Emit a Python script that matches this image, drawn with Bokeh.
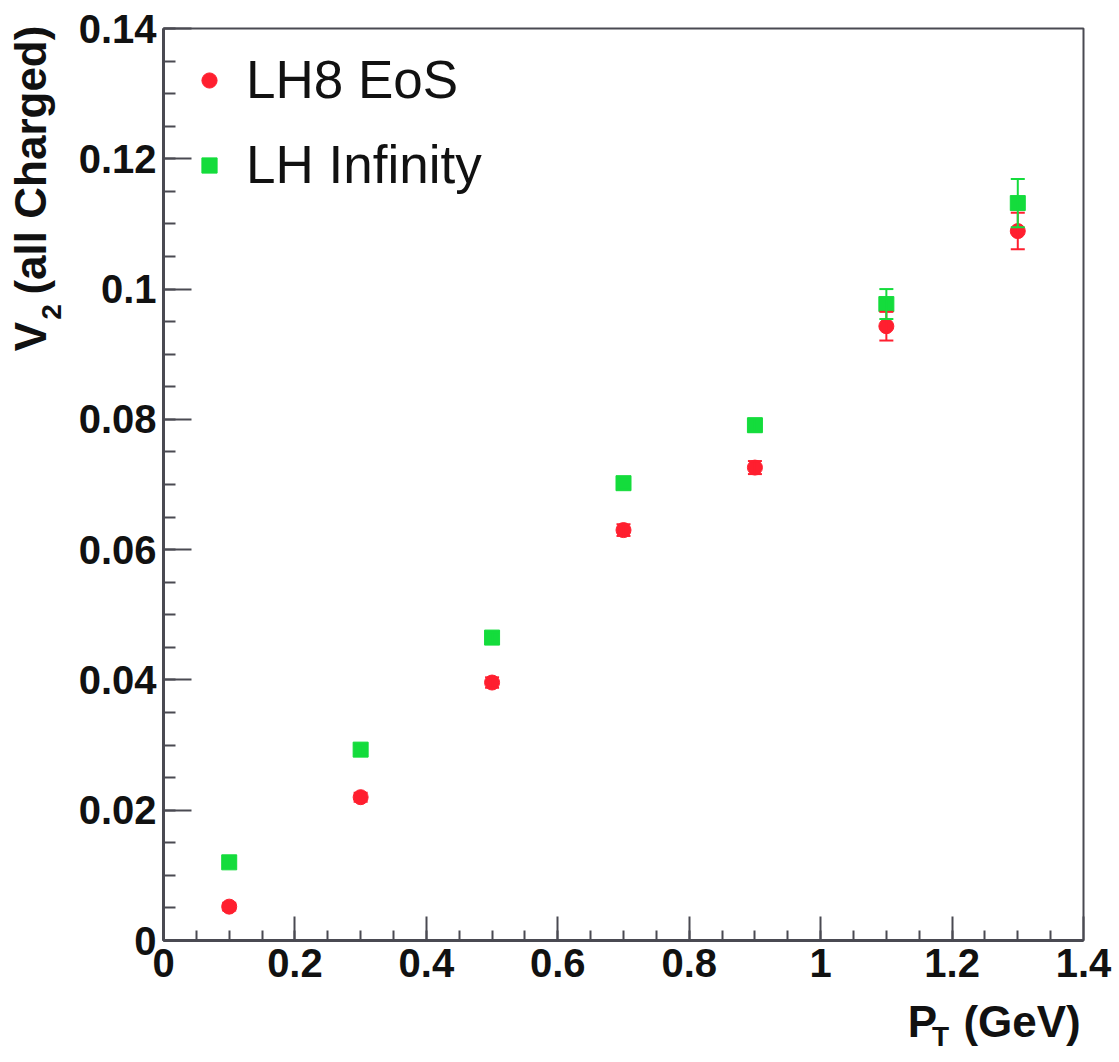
from bokeh.plotting import figure
from bokeh.models import (ColumnDataSource, Range1d, FixedTicker, Whisker, TeeHead,
                          Legend, LegendItem, LinearAxis)
from bokeh.embed import file_html
from bokeh.resources import INLINE

# ---- data ----
pt = [0.1, 0.3, 0.5, 0.7, 0.9, 1.1, 1.3]
v2_lh8 = [0.0052, 0.0220, 0.0396, 0.0630, 0.0726, 0.0943, 0.1089]
err_lh8 = [0.0006, 0.0007, 0.0008, 0.0009, 0.0010, 0.0022, 0.0028]
v2_inf = [0.0120, 0.0293, 0.0465, 0.0702, 0.0791, 0.0977, 0.1132]
err_inf = [0.0006, 0.0007, 0.0008, 0.0009, 0.0010, 0.0023, 0.0037]

x_major = [0, 0.2, 0.4, 0.6, 0.8, 1.0, 1.2, 1.4]
x_labels = ["0", "0.2", "0.4", "0.6", "0.8", "1", "1.2", "1.4"]
x_minor = [i * 0.05 for i in range(29)]
y_major = [0, 0.02, 0.04, 0.06, 0.08, 0.10, 0.12, 0.14]
y_labels = ["0", "0.02", "0.04", "0.06", "0.08", "0.1", "0.12", "0.14"]
y_minor = [i * 0.005 for i in range(29)]

series_names = ["LH8 EoS", "LH Infinity"]
# axis title pieces (main text, subscript)
x_title_main = ["P", "(GeV)"]
x_title_sub = ["T"]
y_title_main = ["V", "(all Charged)"]
y_title_sub = ["2"]

RED = "#ff1f2f"
GREEN = "#14dc3c"
AX = "#4a4a52"
FONT = "Liberation Sans"
TXT = "#111111"

p = figure(width=1119, height=1062, output_backend="svg", toolbar_location=None,
           x_range=Range1d(0, 1.4), y_range=Range1d(0, 0.14),
           min_border_left=163, min_border_right=36, min_border_top=28,
           min_border_bottom=122)
p.background_fill_color = "white"
p.border_fill_color = "white"
p.grid.visible = False
p.outline_line_color = AX
p.outline_line_width = 2

for ax, maj, lab, mn in ((p.xaxis[0], x_major, x_labels, x_minor),
                          (p.yaxis[0], y_major, y_labels, y_minor)):
    ax.ticker = FixedTicker(ticks=maj, minor_ticks=mn)
    ax.major_label_overrides = {v: l for v, l in zip(maj, lab)}
    ax.axis_line_color = AX
    ax.axis_line_width = 3
    ax.major_tick_line_color = AX
    ax.minor_tick_line_color = AX
    ax.major_tick_line_width = 2
    ax.minor_tick_line_width = 2
    ax.major_tick_out = 0
    ax.minor_tick_out = 0
    ax.major_label_text_font = FONT
    ax.major_label_text_font_style = "bold"
    ax.major_label_text_font_size = "40px"
    ax.major_label_text_color = TXT

p.xaxis.major_tick_in = 24
p.xaxis.minor_tick_in = 10
p.yaxis.major_tick_in = 28
p.yaxis.minor_tick_in = 12
p.xaxis.major_label_standoff = 8
p.yaxis.major_label_standoff = 7


def title_axis(side, positions, texts, size, standoff):
    """An axis without line or ticks that only carries title text."""
    a = LinearAxis(ticker=FixedTicker(ticks=positions, minor_ticks=[]),
                   major_label_overrides={v: t for v, t in zip(positions, texts)},
                   axis_line_color=None, major_tick_line_color=None,
                   minor_tick_line_color=None, major_tick_in=0, major_tick_out=0,
                   minor_tick_in=0, minor_tick_out=0,
                   major_label_standoff=standoff,
                   major_label_text_font=FONT, major_label_text_font_style="bold",
                   major_label_text_font_size=size, major_label_text_color=TXT)
    if side == "left":
        a.major_label_orientation = "parallel"
    p.add_layout(a, side)
    return a


# x title: "P_T (GeV)" right-aligned at the end of the axis
title_axis("below", [1.155, 1.3065], x_title_main, "44px", 17)
title_axis("below", [1.1825], x_title_sub, "28px", -28)
# y title: "V_2 (all Charged)" at the top of the axis
title_axis("left", [0.0965], y_title_sub, "28px", 14)
title_axis("left", [0.0927, 0.1198], y_title_main, "44px", -16)

src_lh8 = ColumnDataSource(dict(x=pt, y=v2_lh8,
                                lo=[a - b for a, b in zip(v2_lh8, err_lh8)],
                                hi=[a + b for a, b in zip(v2_lh8, err_lh8)]))
src_inf = ColumnDataSource(dict(x=pt, y=v2_inf,
                                lo=[a - b for a, b in zip(v2_inf, err_inf)],
                                hi=[a + b for a, b in zip(v2_inf, err_inf)]))

for src, col in ((src_lh8, RED), (src_inf, GREEN)):
    w = Whisker(base="x", lower="lo", upper="hi", source=src, line_color=col,
                line_width=2, level="glyph",
                upper_head=TeeHead(size=14, line_color=col, line_width=2),
                lower_head=TeeHead(size=14, line_color=col, line_width=2))
    p.add_layout(w)

r1 = p.scatter("x", "y", source=src_lh8, marker="circle", size=15,
               fill_color=RED, line_color=RED, line_width=1)
r2 = p.scatter("x", "y", source=src_inf, marker="square", size=15,
               fill_color=GREEN, line_color=GREEN, line_width=1)

legend = Legend(items=[LegendItem(label=series_names[0], renderers=[r1]),
                       LegendItem(label=series_names[1], renderers=[r2])],
                location="top_left", glyph_width=50, glyph_height=38,
                label_standoff=12, spacing=24, margin=21, padding=8,
                label_text_font=FONT, label_text_font_size="53px",
                label_text_color=TXT,
                border_line_color=None, background_fill_alpha=0)
p.add_layout(legend)

open("out.html", "w").write(file_html(p, INLINE))
